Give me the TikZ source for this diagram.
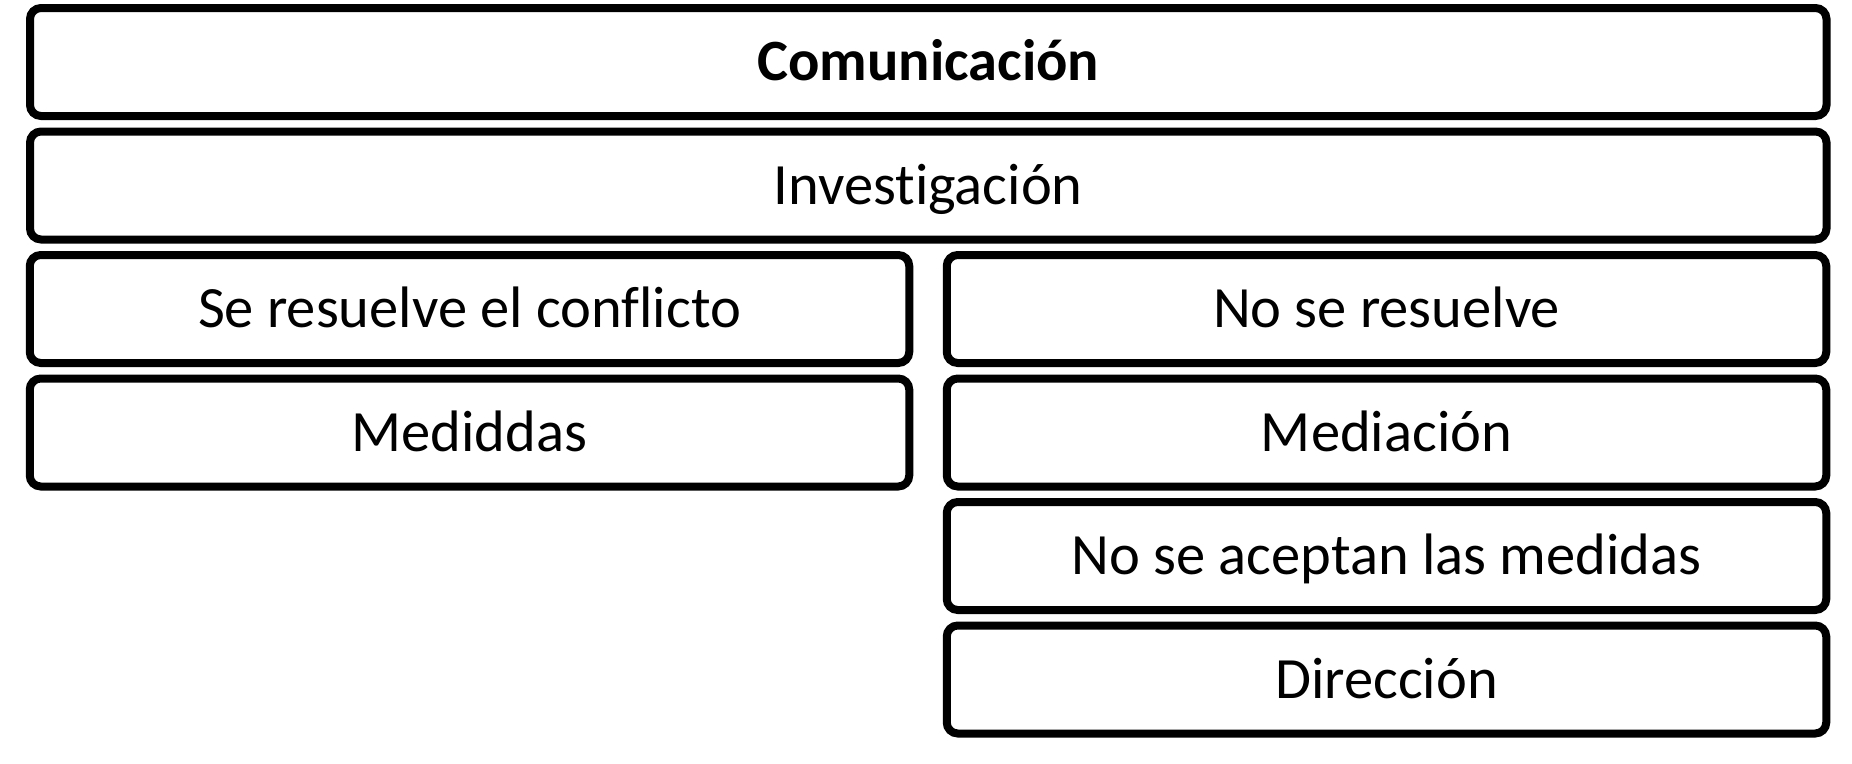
\documentclass[tikz,border=0pt]{standalone}
\usepackage{fontspec}
\setmainfont{Carlito}[Ligatures=NoCommon]
\begin{document}
\begin{tikzpicture}[x=1pt,y=-1pt,
  box/.style={draw=black,line width=8pt,rounded corners=11pt,fill=white,
    inner sep=0pt,outer sep=0pt,minimum height=108pt,
    text height=37pt,text depth=0pt,font=\fontsize{58.5}{66}\selectfont},
  wide/.style={box,minimum width=1796.5pt},
  half/.style={box,minimum width=879.5pt}]
\useasboundingbox (0,0) rectangle (1852,763);
\node[wide] (com) at (928.25,62) {\textbf{Comunicación}};
\node[wide] (inv) at (928.25,185.5) {Investigación};
\node[half] (se) at (469.5,309) {Se resuelve el conflicto};
\node[half] (nose) at (1386.5,309) {No se resuelve};
\node[half] (med) at (469.5,432.5) {Mediddas};
\node[half] (media) at (1386.5,432.5) {Mediación};
\node[half] (noac) at (1386.5,556) {No se aceptan las medidas};
\node[half] (dir) at (1386.5,679.5) {Dirección};
\end{tikzpicture}
\end{document}
